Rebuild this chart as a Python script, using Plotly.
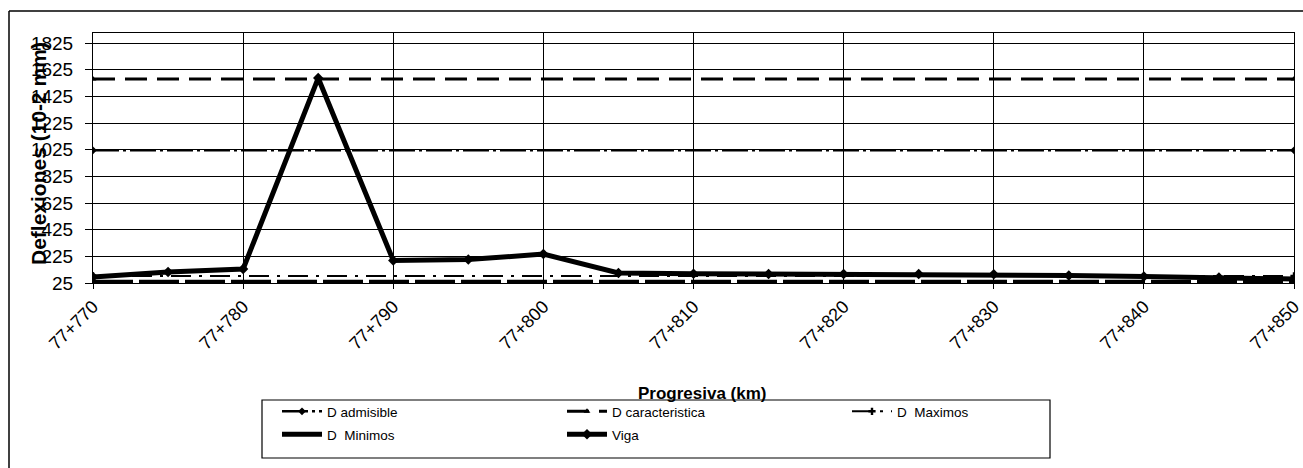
import plotly.graph_objects as go

# ---- data ----
progresiva = [770, 775, 780, 785, 790, 795, 800, 805, 810, 815, 820, 825, 830, 835, 840, 845, 850]
viga = [70, 107, 130, 1562, 194, 201, 242, 100, 94, 92, 92, 92, 91, 81, 74, 66, 55]

extremos = [770, 850]
d_admisible = [1020, 1020]
d_caracteristica = [1555, 1555]
d_maximos = [78, 78]
d_minimos = [30, 30]

x_tick_vals = [770, 780, 790, 800, 810, 820, 830, 840, 850]
x_tick_text = ["77+770", "77+780", "77+790", "77+800", "77+810", "77+820", "77+830", "77+840", "77+850"]
y_tick_vals = [25, 225, 425, 625, 825, 1025, 1225, 1425, 1625, 1825]
y_tick_text = ["25", "225", "425", "625", "825", "1025", "1225", "1425", "1625", "1825"]

# ---- layout geometry (pixels) ----
W, H = 1303, 468
L, R, T, B = 93, 9, 33, 185
PW, PH = W - L - R, H - T - B


def px_x(px):
    return (px - L) / PW


def px_y(py):
    return (H - B - py) / PH


fig = go.Figure()

fig.add_trace(go.Scatter(
    x=extremos, y=d_admisible, name="D admisible", mode="lines+markers", legend="legend",
    line=dict(color="black", width=2.5, dash="26px,4px,3px,4px"),
    marker=dict(symbol="diamond", size=6, color="black")))
fig.add_trace(go.Scatter(
    x=extremos, y=d_caracteristica, name="D caracteristica", mode="lines+markers", legend="legend",
    line=dict(color="black", width=3, dash="22px,10px"),
    marker=dict(symbol="triangle-up", size=6, color="black")))
fig.add_trace(go.Scatter(
    x=extremos, y=d_maximos, name="D  Maximos", mode="lines+markers", legend="legend",
    line=dict(color="black", width=2, dash="20px,8px,3px,8px"),
    marker=dict(symbol="cross", size=6, color="black")))
fig.add_trace(go.Scatter(
    x=extremos, y=d_minimos, name="D  Minimos", mode="lines", legend="legend2",
    line=dict(color="black", width=5, dash="40px,6px")))
fig.add_trace(go.Scatter(
    x=progresiva, y=viga, name="Viga", mode="lines+markers", legend="legend2",
    line=dict(color="black", width=5),
    marker=dict(symbol="diamond", size=8, color="black")))

legend_common = dict(
    orientation="h", xanchor="left", yanchor="top",
    borderwidth=0, bgcolor="rgba(0,0,0,0)",
    font=dict(family="Arial, Liberation Sans, sans-serif", size=13.5, color="black"),
    entrywidth=230, entrywidthmode="pixels", itemwidth=40, tracegroupgap=0,
)

fig.update_layout(
    width=W, height=H,
    margin=dict(l=L, r=R, t=T, b=B, pad=0, autoexpand=False),
    paper_bgcolor="white", plot_bgcolor="white",
    font=dict(family="Arial, Liberation Sans, sans-serif", color="black"),
    showlegend=True,
    legend=dict(x=px_x(277), y=px_y(396), **legend_common),
    legend2=dict(x=px_x(277), y=px_y(419), **legend_common),
    xaxis=dict(
        range=[770, 850], tickmode="array", tickvals=x_tick_vals, ticktext=x_tick_text,
        tickangle=-45, tickfont=dict(size=18, color="black"), ticklabeloverflow="allow",
        showgrid=True, gridcolor="black", gridwidth=1,
        showline=True, linecolor="black", linewidth=1, mirror=True,
        ticks="outside", ticklen=5, tickcolor="black", zeroline=False,
    ),
    yaxis=dict(
        range=[25, 1900], tickmode="array", tickvals=y_tick_vals, ticktext=y_tick_text,
        tickfont=dict(size=19, color="black"), ticklabelstandoff=8,
        showgrid=True, gridcolor="black", gridwidth=1,
        showline=True, linecolor="black", linewidth=1, mirror=True,
        ticks="outside", ticklen=7, tickcolor="black", zeroline=False,
    ),
    annotations=[
        dict(text="<b>Progresiva (km)</b>", x=px_x(702), y=px_y(393), xref="paper", yref="paper",
             showarrow=False, xanchor="center", yanchor="middle",
             font=dict(size=17, color="black", family="Arial, Liberation Sans, sans-serif")),
        dict(text="<b>Deflexiones (10-2 mm)</b>", x=px_x(38), y=px_y(154), xref="paper", yref="paper",
             showarrow=False, xanchor="center", yanchor="middle", textangle=-90,
             font=dict(size=21, color="black", family="Arial, Liberation Sans, sans-serif")),
    ],
    shapes=[
        dict(type="line", xref="paper", yref="paper", x0=px_x(9), x1=px_x(1303), y0=px_y(11), y1=px_y(11),
             line=dict(color="black", width=1.5)),
        dict(type="line", xref="paper", yref="paper", x0=px_x(9), x1=px_x(9), y0=px_y(11), y1=px_y(468),
             line=dict(color="black", width=1.5)),
        dict(type="rect", xref="paper", yref="paper", x0=px_x(262), x1=px_x(1050), y0=px_y(400), y1=px_y(458),
             line=dict(color="black", width=1.2), fillcolor="rgba(0,0,0,0)"),
    ],
)

fig.write_html("out.html")
